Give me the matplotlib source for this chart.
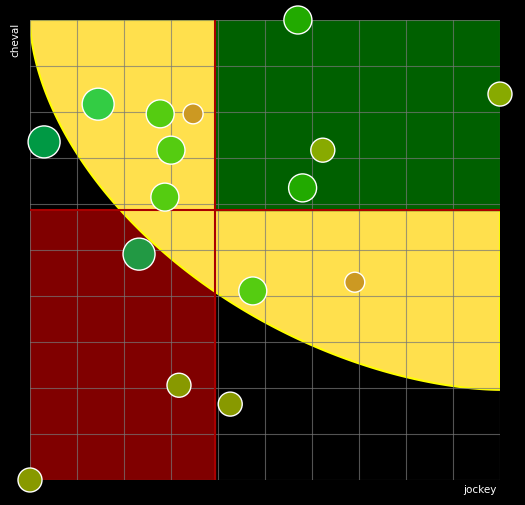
import numpy as np
import matplotlib
matplotlib.use("Agg")
import matplotlib.pyplot as plt
from matplotlib.patches import Rectangle, Polygon

jockey = [57, 100, 14.5, 27.7, 34.7, 3, 30, 62.3, 58, 28.7, 23.2, 47.4, 69.1, 31.7, 42.6, 0]
cheval = [100, 83.9, 81.7, 79.6, 79.6, 73.5, 71.7, 71.7, 63.5, 61.5, 49.1, 41.1, 43, 20.6, 16.5, 0]
radius_px = [14, 12, 16, 14, 10, 16, 14, 12, 14, 14, 16, 14, 10, 12, 12, 12]
colors = ["#22aa00", "#88aa00", "#33cc44", "#55cc11", "#cc9922", "#009944", "#55cc11", "#88aa00",
          "#22aa00", "#55cc11", "#229944", "#55cc11", "#cc9922", "#889900", "#889900", "#889900"]
split_x, split_y = 39.4, 58.7

fig = plt.figure(figsize=(5.25, 5.05), dpi=100, facecolor="black")
ax = fig.add_axes([30/525, 25/505, 470/525, 460/505])
ax.set_facecolor("black")
ax.set_xlim(0, 100); ax.set_ylim(0, 100)
for s in ax.spines.values(): s.set_visible(False)
ax.set_xticks([]); ax.set_yticks([])

ax.add_patch(Rectangle((0, 0), split_x, split_y, color="#800000", zorder=1))
# yellow region outside superellipse centered at (100,100)
p = 1.75
t = np.linspace(0, np.pi/2, 200)
ex = 100 - 100*np.cos(t)**(2/p)
ey = 100 - 80.4*np.sin(t)**(2/p)
poly = np.column_stack([np.r_[ex, 100], np.r_[ey, 100]])
ax.add_patch(Polygon(poly, closed=True, facecolor="#ffe04d", edgecolor="yellow", lw=1.5, zorder=2))
ax.add_patch(Rectangle((split_x, split_y), 100-split_x, 100-split_y, color="#006000", zorder=3))
for v in np.linspace(0, 100, 11):
    ax.plot([v, v], [0, 100], color="#777777", lw=0.8, alpha=0.7, zorder=4)
    ax.plot([0, 100], [v, v], color="#777777", lw=0.8, alpha=0.7, zorder=4)
ax.plot([split_x, split_x], [0, 100], color="#aa0000", lw=1.5, zorder=5)
ax.plot([0, 100], [split_y, split_y], color="#aa0000", lw=1.5, zorder=5)

sizes = [(2*r*0.72)**2 for r in radius_px]
ax.scatter(jockey, cheval, s=sizes, c=colors, edgecolors="white", linewidths=1, zorder=6, clip_on=False)

fig.text(15/525, 1-40/505, "cheval", color="white", rotation=90, fontsize=7.5, ha="center", va="center")
fig.text(480/525, 1-490/505, "jockey", color="white", fontsize=7.5, ha="center", va="center")
fig.savefig("out.png", dpi=100, facecolor="black")
